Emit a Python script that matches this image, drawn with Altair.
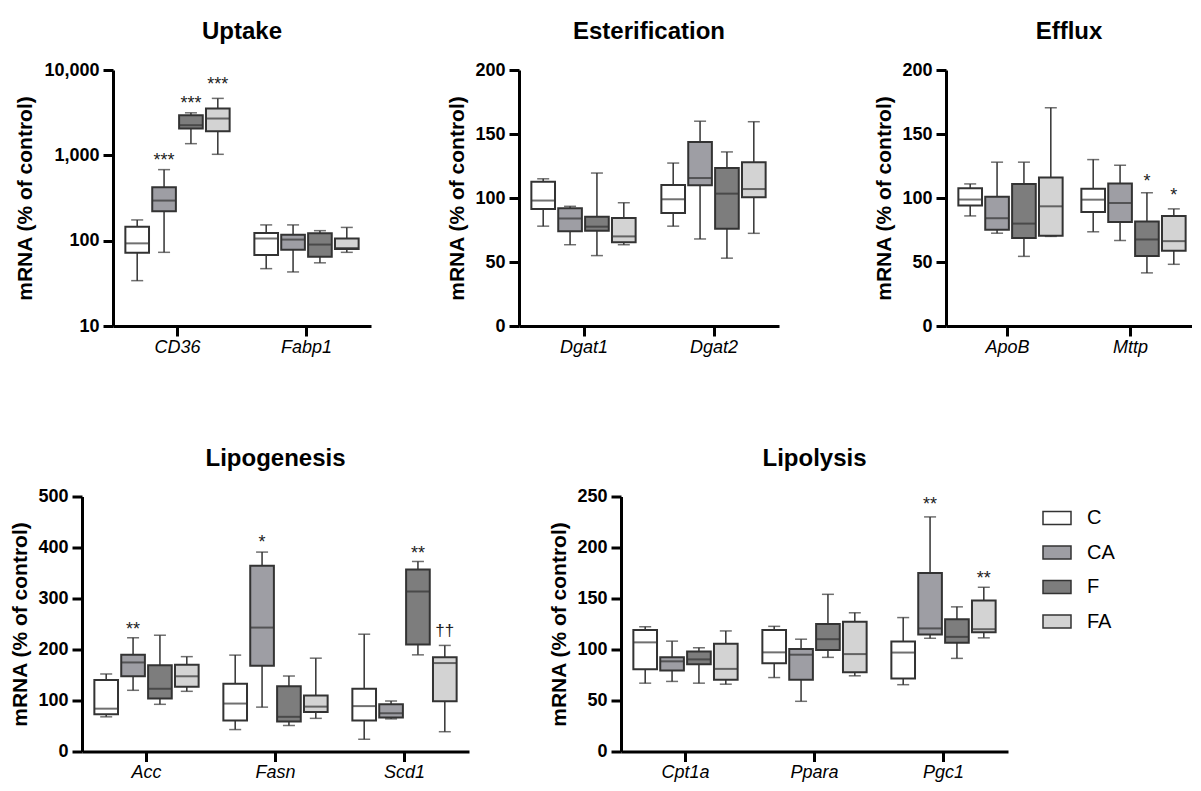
import altair as alt
import pandas as pd

FONT = "Liberation Sans"
GROUPS = ["C", "CA", "F", "FA"]
FILLS = ["#ffffff", "#9e9ea4", "#7d7d7d", "#d3d3d3"]

# ---- Uptake (log scale) ----
UPTAKE_GENES = ["CD36", "Fabp1"]
UPTAKE_MIN = [34, 73, 1370, 1028, 47, 43, 55, 73]
UPTAKE_Q1 = [72, 221, 2060, 1915, 68, 78, 65, 80]
UPTAKE_MED = [93, 295, 2255, 2700, 106, 103, 90, 82]
UPTAKE_Q3 = [146, 424, 2950, 3540, 123, 117, 122, 106]
UPTAKE_MAX = [175, 680, 3150, 4650, 153, 153, 131, 143]
UPTAKE_ANN_GENE = ["CD36", "CD36", "CD36"]
UPTAKE_ANN_GROUP = ["CA", "F", "FA"]
UPTAKE_ANN_TEXT = ["***", "***", "***"]
UPTAKE_ANN_Y = [947, 4436, 7430]

# ---- Esterification ----
ESTER_GENES = ["Dgat1", "Dgat2"]
ESTER_MIN = [78, 63.5, 55, 63.5, 78, 68, 53, 72.4]
ESTER_Q1 = [91.4, 74, 74.5, 65.4, 88.3, 110, 76, 100.5]
ESTER_MED = [98, 84, 77.6, 70, 99, 115.6, 103.4, 107]
ESTER_Q3 = [112.7, 92, 85.4, 84.4, 110.2, 143.7, 123.4, 128]
ESTER_MAX = [115, 93.5, 119.5, 96.3, 127.3, 160, 136, 159.6]

# ---- Efflux ----
EFFLUX_GENES = ["ApoB", "Mttp"]
EFFLUX_MIN = [86, 72.5, 54.4, 70, 73.6, 66.8, 41.5, 48.2]
EFFLUX_Q1 = [94.2, 75.1, 68.7, 70.5, 89.1, 81.3, 54.7, 58.8]
EFFLUX_MED = [98.8, 84.2, 80, 93.5, 98.7, 96.1, 67.6, 66.3]
EFFLUX_Q3 = [107.6, 101, 110.9, 116, 107.3, 111.4, 81.6, 86]
EFFLUX_MAX = [111, 128, 128, 170.5, 130, 125.6, 104.1, 91.5]
EFFLUX_ANN_GENE = ["Mttp", "Mttp"]
EFFLUX_ANN_GROUP = ["F", "FA"]
EFFLUX_ANN_TEXT = ["*", "*"]
EFFLUX_ANN_Y = [116, 105]

# ---- Lipogenesis ----
LIPOG_GENES = ["Acc", "Fasn", "Scd1"]
LIPOG_MIN = [68, 120, 92.5, 118, 43, 87, 51, 65, 24, 64, 189.5, 38.8]
LIPOG_Q1 = [73, 147.5, 104, 127, 61, 168, 59, 77.6, 61, 66.6, 210, 98.3]
LIPOG_MED = [84, 174.6, 123, 147.5, 94, 243, 68, 88, 89, 75, 313.7, 173.4]
LIPOG_Q3 = [140, 189.5, 169, 170, 133, 364, 128, 110, 123, 92.5, 357, 185]
LIPOG_MAX = [152, 223, 228, 186, 189, 391, 148, 183, 230, 99, 372.6, 208]
LIPOG_ANN_GENE = ["Acc", "Fasn", "Scd1", "Scd1"]
LIPOG_ANN_GROUP = ["CA", "CA", "F", "FA"]
LIPOG_ANN_TEXT = ["**", "*", "**", "††"]
LIPOG_ANN_Y = [246, 417, 394.6, 234.8]

# ---- Lipolysis ----
LIPOL_GENES = ["Cpt1a", "Ppara", "Pgc1"]
LIPOL_MIN = [67, 68.7, 67, 66, 72.5, 49.2, 92.3, 74.2, 65.5, 111, 91.3, 111.4]
LIPOL_Q1 = [80.6, 79.3, 85.5, 70.3, 86.5, 70.3, 99.4, 77.7, 71.5, 114.7, 106.6, 117]
LIPOL_MED = [107, 88.4, 90.3, 81, 97.2, 94.9, 110.1, 95.5, 97, 120.7, 112.4, 119.9]
LIPOL_Q3 = [119, 92.3, 98.1, 105.6, 119.1, 100.4, 125, 127.3, 107.8, 175, 129.6, 148]
LIPOL_MAX = [122.3, 108.2, 101.7, 118.2, 122.7, 110.1, 154.1, 136, 131.3, 230, 141.8, 161]
LIPOL_ANN_GENE = ["Pgc1", "Pgc1"]
LIPOL_ANN_GROUP = ["CA", "FA"]
LIPOL_ANN_TEXT = ["**", "**"]
LIPOL_ANN_Y = [246, 173.3]

LEGEND = alt.Legend(
    title=None, orient="none", legendX=960, legendY=433, direction="vertical",
    symbolType="M-1,-0.464H1V0.464H-1Z", symbolSize=784,
    symbolStrokeColor="#333333", symbolStrokeWidth=1.5,
    labelFont=FONT, labelFontSize=20, labelColor="black", labelOffset=15,
    rowPadding=9.5, padding=0,
)


def make_df(genes, mins, q1s, meds, q3s, maxs):
    rows = []
    for gi, g in enumerate(genes):
        for k, grp in enumerate(GROUPS):
            i = gi * 4 + k
            rows.append(dict(gene=g, group=grp, lo=mins[i], q1=q1s[i],
                             med=meds[i], q3=q3s[i], hi=maxs[i]))
    return pd.DataFrame(rows)


def make_ann(genes, groups, texts, ys):
    return pd.DataFrame(dict(gene=genes, group=groups, label=texts, y=ys))


def spacer(w):
    return alt.Chart(pd.DataFrame({"s": [0]})).mark_point(opacity=0).encode(
        x=alt.X("s:Q", axis=None), y=alt.Y("s:Q", axis=None)
    ).properties(width=w, height=1)


def panel(title, genes, df, ann, width, height, ydomain, yvalues, log=False,
          title_pad=7.5):
    xenc = alt.X(
        "gene:N", sort=genes,
        scale=alt.Scale(domain=genes, paddingInner=0, paddingOuter=0),
        axis=alt.Axis(title=None, labelAngle=0, labelFont=FONT, labelFontSize=18,
                      labelFontStyle="italic", labelColor="black",
                      domainColor="black", domainWidth=3, tickColor="black",
                      tickWidth=3, tickSize=10, labelPadding=2, grid=False),
    )
    xoff = alt.XOffset(
        "group:N", sort=GROUPS,
        scale=alt.Scale(domain=GROUPS, paddingInner=0.12, paddingOuter=0.46),
    )
    ysc = alt.Scale(type="log" if log else "linear", domain=ydomain, nice=False)
    yaxis = alt.Axis(
        title="mRNA (% of control)", values=yvalues, format=",.0f",
        labelFont=FONT, labelFontSize=18, labelFontWeight="bold", labelColor="black",
        titleFont=FONT, titleFontSize=21, titleFontWeight="bold", titleColor="black",
        titlePadding=title_pad, domainColor="black", domainWidth=3,
        tickColor="black", tickWidth=3, tickSize=10, labelPadding=4, grid=False,
    )

    def Y(field):
        return alt.Y(field, scale=ysc, axis=yaxis, title="mRNA (% of control)")

    base = alt.Chart(df).encode(x=xenc, xOffset=xoff)
    whisker = base.mark_rule(color="#333333", strokeWidth=1.5).encode(
        y=Y("lo:Q"), y2="hi:Q")
    cap_lo = base.mark_tick(color="#333333", thickness=1.5, size=12).encode(y=Y("lo:Q"))
    cap_hi = base.mark_tick(color="#333333", thickness=1.5, size=12).encode(y=Y("hi:Q"))
    box = base.mark_bar(stroke="#333333", strokeWidth=2).encode(
        y=Y("q1:Q"), y2="q3:Q",
        color=alt.Color("group:N", scale=alt.Scale(domain=GROUPS, range=FILLS),
                        legend=LEGEND))
    med = base.mark_tick(color="#333333", thickness=2, size=23).encode(y=Y("med:Q"))
    layers = [whisker, cap_lo, cap_hi, box, med]
    if ann is not None:
        abase = alt.Chart(ann).encode(x=xenc, xOffset=xoff, y=Y("y:Q"), text="label:N")
        stars = abase.transform_filter("indexof(datum.label, '*') >= 0").mark_text(
            font=FONT, fontSize=18, color="#222222", baseline="middle", dy=4)
        daggers = abase.transform_filter("indexof(datum.label, '*') < 0").mark_text(
            font=FONT, fontSize=17, color="#222222", baseline="middle", dy=-1)
        layers += [stars, daggers]
    return alt.layer(*layers).properties(
        width=width, height=height,
        title=alt.TitleParams(title, font=FONT, fontSize=24, fontWeight="bold",
                              color="black", anchor="middle", frame="group", offset=17),
    )


p1 = panel("Uptake", UPTAKE_GENES,
           make_df(UPTAKE_GENES, UPTAKE_MIN, UPTAKE_Q1, UPTAKE_MED, UPTAKE_Q3, UPTAKE_MAX),
           make_ann(UPTAKE_ANN_GENE, UPTAKE_ANN_GROUP, UPTAKE_ANN_TEXT, UPTAKE_ANN_Y),
           258, 256, [10, 10000], [10, 100, 1000, 10000], log=True, title_pad=8.5)
p2 = panel("Esterification", ESTER_GENES,
           make_df(ESTER_GENES, ESTER_MIN, ESTER_Q1, ESTER_MED, ESTER_Q3, ESTER_MAX),
           None, 260, 256, [0, 200], [0, 50, 100, 150, 200])
p3 = panel("Efflux", EFFLUX_GENES,
           make_df(EFFLUX_GENES, EFFLUX_MIN, EFFLUX_Q1, EFFLUX_MED, EFFLUX_Q3, EFFLUX_MAX),
           make_ann(EFFLUX_ANN_GENE, EFFLUX_ANN_GROUP, EFFLUX_ANN_TEXT, EFFLUX_ANN_Y),
           246, 256, [0, 200], [0, 50, 100, 150, 200])
p4 = panel("Lipogenesis", LIPOG_GENES,
           make_df(LIPOG_GENES, LIPOG_MIN, LIPOG_Q1, LIPOG_MED, LIPOG_Q3, LIPOG_MAX),
           make_ann(LIPOG_ANN_GENE, LIPOG_ANN_GROUP, LIPOG_ANN_TEXT, LIPOG_ANN_Y),
           387, 255, [0, 500], [0, 100, 200, 300, 400, 500])
p5 = panel("Lipolysis", LIPOL_GENES,
           make_df(LIPOL_GENES, LIPOL_MIN, LIPOL_Q1, LIPOL_MED, LIPOL_Q3, LIPOL_MAX),
           make_ann(LIPOL_ANN_GENE, LIPOL_ANN_GROUP, LIPOL_ANN_TEXT, LIPOL_ANN_Y),
           387, 255, [0, 250], [0, 50, 100, 150, 200, 250])

row1 = alt.hconcat(spacer(31), p1, spacer(148), p2, spacer(167), p3,
                   spacing=0, bounds="flush")
row2 = alt.hconcat(p4, spacer(152), p5, spacing=0, bounds="flush")

chart = alt.vconcat(row1, row2, spacing=90.5).properties(
    padding={"left": 1, "top": 12, "right": 0, "bottom": 0},
    background="white",
).configure_view(strokeWidth=0, stroke="transparent")

chart.save("out.html", embed_options={"renderer": "svg", "actions": False})
